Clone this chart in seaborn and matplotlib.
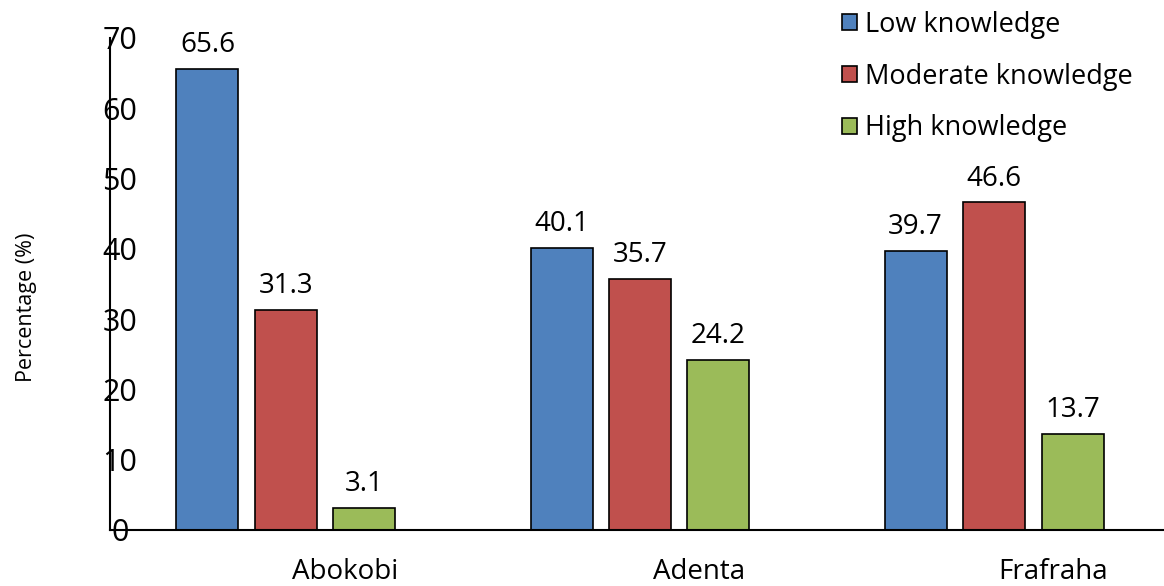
import matplotlib
matplotlib.use("Agg")
import matplotlib.pyplot as plt
import matplotlib.transforms as mtransforms
from matplotlib.patches import Patch
import seaborn as sns
import pandas as pd

# Knowledge levels by community (percentages)
communities = ["Abokobi", "Adenta", "Frafraha"]
levels = ["Low knowledge", "Moderate knowledge", "High knowledge"]
low = [65.6, 40.1, 39.7]
moderate = [31.3, 35.7, 46.6]
high = [3.1, 24.2, 13.7]
y_ticks = [0, 10, 20, 30, 40, 50, 60, 70]

colors = ["#4F81BD", "#C0504D", "#9BBB59"]

df = pd.DataFrame({
    "community": communities * 3,
    "level": [levels[0]] * 3 + [levels[1]] * 3 + [levels[2]] * 3,
    "value": low + moderate + high,
})

sns.set_theme(style="white")
plt.rcParams["font.family"] = ["Open Sans", "DejaVu Sans"]
plt.rcParams["text.color"] = "black"
plt.rcParams["xtick.color"] = "black"
plt.rcParams["ytick.color"] = "black"
plt.rcParams["axes.labelcolor"] = "black"

fig = plt.figure(figsize=(11.64, 5.86), dpi=100)
ax = fig.add_axes([0.0945, 0.0956, 0.9055, 0.8396])

sns.barplot(data=df, x="community", y="value", hue="level",
            order=communities, hue_order=levels, palette=colors,
            saturation=1, width=0.665, gap=0.21,
            edgecolor="black", linewidth=1.2, legend=False, ax=ax)

for container in ax.containers:
    ax.bar_label(container, fmt="%.1f", padding=7, fontsize=20, color="black")

ax.set_ylim(0, 70)
ax.set_xlim(-0.497, 2.48)
ax.set_yticks(y_ticks)
ax.set_yticklabels([str(t) for t in y_ticks], fontsize=22)
ax.tick_params(axis="y", length=0, pad=-7)
for lbl in ax.get_yticklabels():
    lbl.set_horizontalalignment("center")

ax.tick_params(axis="x", length=0, pad=20, labelsize=20)
shift = mtransforms.ScaledTranslation(0.59, 0, fig.dpi_scale_trans)
for lbl in ax.get_xticklabels():
    lbl.set_transform(lbl.get_transform() + shift)

ax.set_xlabel("")
ax.set_ylabel("Percentage (%)", fontsize=15.5)
ax.yaxis.set_label_coords(-0.0693, 0.453)

for side in ["top", "right"]:
    ax.spines[side].set_visible(False)
for side in ["left", "bottom"]:
    ax.spines[side].set_color("black")
    ax.spines[side].set_linewidth(1.5)

handles = [Patch(facecolor=c, edgecolor="black", linewidth=1.2) for c in colors]
fig.legend(handles, levels, loc="upper left", bbox_to_anchor=(0.7138, 1.0),
           frameon=False, fontsize=19.5, handlelength=0.55, handleheight=0.55,
           handletextpad=0.3, labelspacing=0.88, borderaxespad=0)

fig.savefig("out.png", dpi=100)
